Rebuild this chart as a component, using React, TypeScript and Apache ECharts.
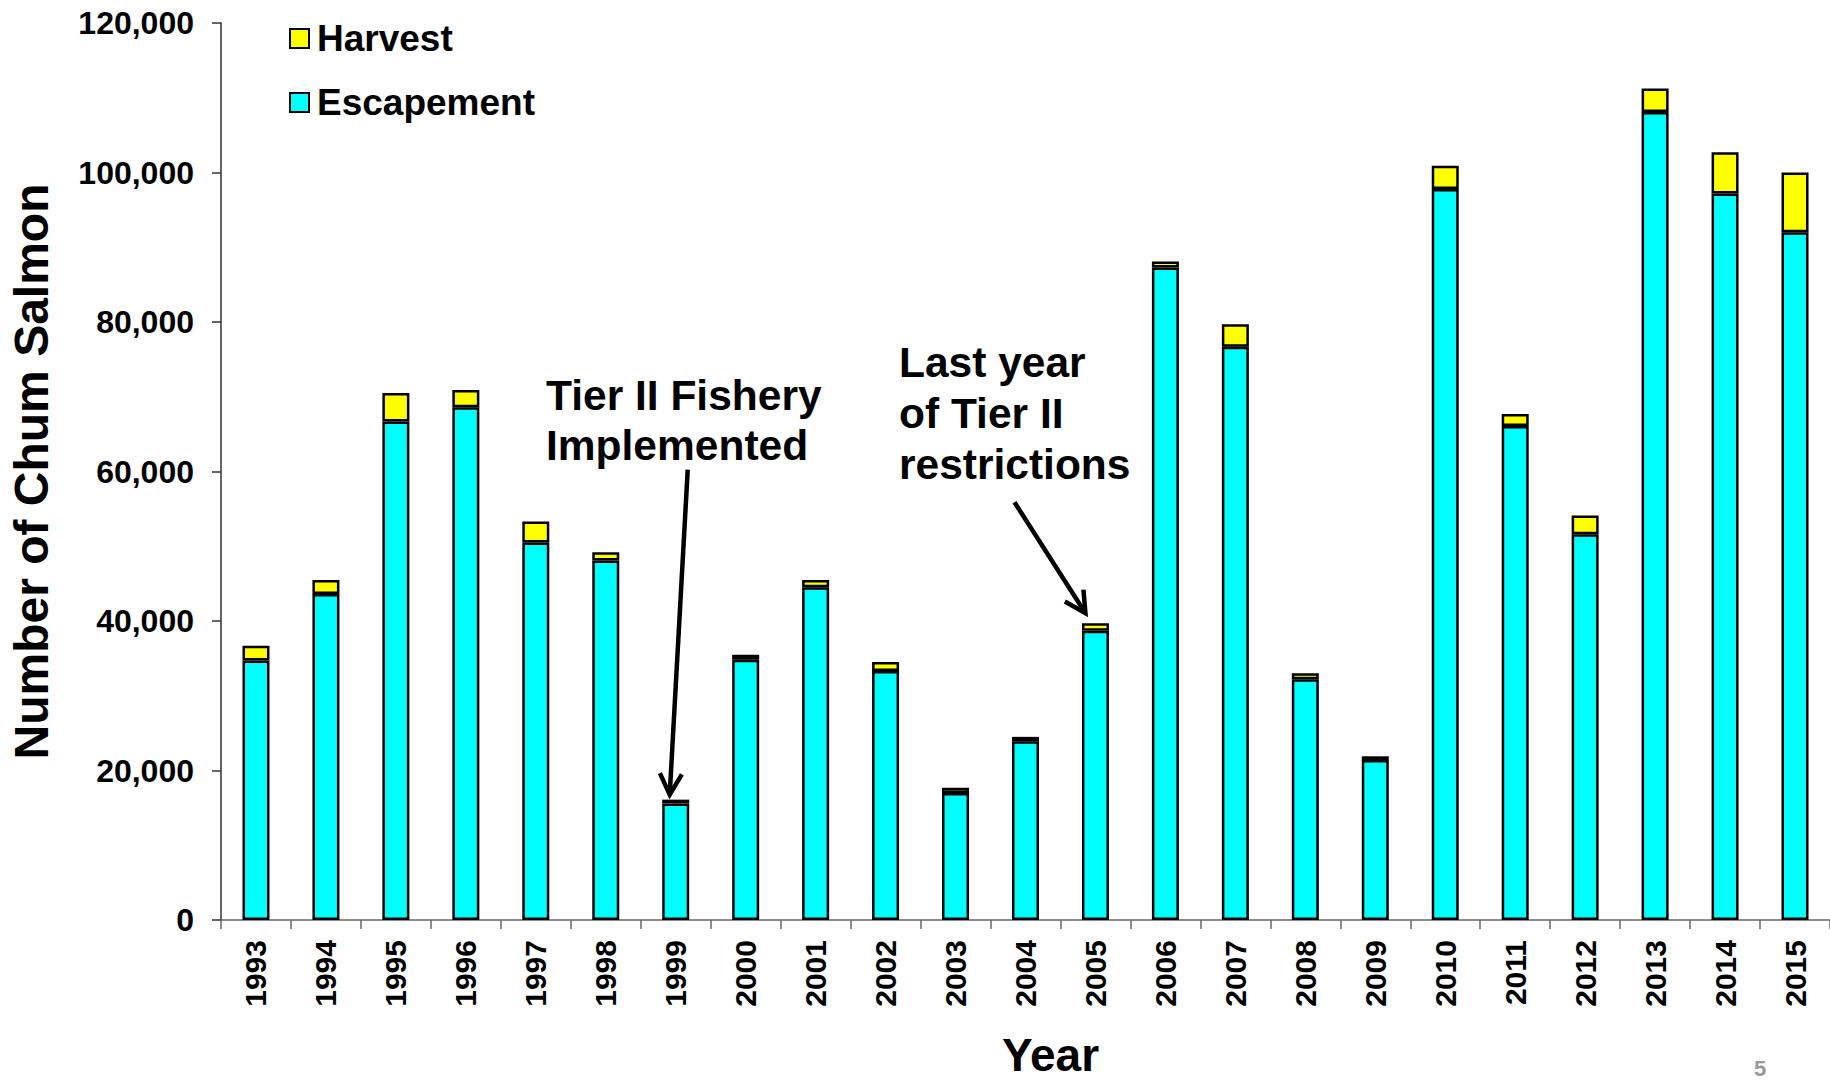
import React, { useEffect, useRef } from "react";
import * as echarts from "echarts";

const years = ["1993","1994","1995","1996","1997","1998","1999","2000","2001","2002","2003","2004","2005","2006","2007","2008","2009","2010","2011","2012","2013","2014","2015"];
const escapement = [34700, 43600, 66700, 68600, 50500, 48100, 15600, 34800, 44500, 33300, 17000, 23900, 38700, 87300, 76700, 32200, 21400, 97800, 66100, 51600, 108100, 97200, 92000];
const harvest = [2000, 1900, 3800, 2300, 2800, 1100, 500, 700, 1000, 1200, 700, 600, 1000, 800, 3000, 800, 500, 3100, 1600, 2500, 3150, 5500, 8000];
const yTicks = [0, 20000, 40000, 60000, 80000, 100000, 120000];
const note1Lines = ["Tier II Fishery", "Implemented"];
const note2Lines = ["Last year", "of Tier II", "restrictions"];
const note1Year = "1999";
const note2Year = "2005";

const FONT = "'Liberation Sans', Arial, Helvetica, sans-serif";

function arrowGraphics(tip: number[], tail: number[]) {
  const dx = tip[0] - tail[0];
  const dy = tip[1] - tail[1];
  const len = Math.sqrt(dx * dx + dy * dy);
  const ux = dx / len, uy = dy / len;
  const nx = -uy, ny = ux;
  const L = 21, W = 11;
  const w1 = [tip[0] - ux * L + nx * W, tip[1] - uy * L + ny * W];
  const w2 = [tip[0] - ux * L - nx * W, tip[1] - uy * L - ny * W];
  return [
    { type: "line", shape: { x1: tail[0], y1: tail[1], x2: tip[0] - ux * 2, y2: tip[1] - uy * 2 }, style: { stroke: "#000", lineWidth: 4.5 }, z: 100 },
    { type: "polyline", shape: { points: [w1, tip, w2] }, style: { stroke: "#000", lineWidth: 4.5, fill: null, lineJoin: "miter" }, z: 100 },
  ];
}

export default function App() {
  const ref = useRef<HTMLDivElement>(null);
  useEffect(() => {
    if (!ref.current) return;
    const chart = echarts.init(ref.current, null, { renderer: "svg" });
    const option: any = {
      animation: false,
      backgroundColor: "#fff",
      grid: { left: 221, right: 0, top: 23, bottom: 161, containLabel: false, outerBoundsMode: "none" },
      legend: {
        data: ["Harvest", "Escapement"],
        orient: "vertical",
        left: 284,
        top: 15,
        itemWidth: 19,
        itemHeight: 19,
        itemGap: 27,
        icon: "rect",
        textStyle: { fontFamily: FONT, fontWeight: "bold", fontSize: 37, color: "#000", padding: [0, 0, 0, 3] },
      },
      xAxis: {
        type: "category",
        data: years,
        name: "Year",
        nameLocation: "middle",
        nameGap: 112,
        nameTextStyle: { fontFamily: FONT, fontWeight: "bold", fontSize: 46, lineHeight: 46, color: "#000", padding: [0, 0, 0, 50] },
        axisLine: { lineStyle: { color: "#666", width: 1.5 } },
        axisTick: { show: true, length: 9, alignWithLabel: false, lineStyle: { color: "#666", width: 1.5 } },
        axisLabel: { rotate: 90, margin: 20, fontFamily: FONT, fontWeight: "bold", fontSize: 30, color: "#000", interval: 0 },
      },
      yAxis: {
        type: "value",
        min: 0,
        max: 120000,
        interval: 20000,
        name: "Number of Chum Salmon",
        nameLocation: "middle",
        nameRotate: 90,
        nameGap: 166,
        nameTextStyle: { fontFamily: FONT, fontWeight: "bold", fontSize: 48, color: "#000" },
        splitLine: { show: false },
        axisLine: { show: true, lineStyle: { color: "#333", width: 1.5 } },
        axisTick: { show: true, length: 9, lineStyle: { color: "#333", width: 1.5 } },
        axisLabel: {
          margin: 27,
          fontFamily: FONT,
          fontWeight: "bold",
          fontSize: 32,
          color: "#000",
          formatter: (v: number) => (yTicks.indexOf(v) >= 0 ? v.toLocaleString("en-US") : ""),
        },
      },
      series: [
        {
          name: "Escapement",
          type: "bar",
          stack: "total",
          data: escapement,
          barWidth: 27,
          itemStyle: { color: "#00FFFF", borderColor: "#000", borderWidth: 2.5 },
        },
        {
          name: "Harvest",
          type: "bar",
          stack: "total",
          data: harvest,
          barWidth: 27,
          itemStyle: { color: "#FFFF00", borderColor: "#000", borderWidth: 2.5 },
        },
      ],
    };
    chart.setOption(option);

    const i1 = years.indexOf(note1Year);
    const i2 = years.indexOf(note2Year);
    const top1 = chart.convertToPixel({ gridIndex: 0 }, [i1, escapement[i1] + harvest[i1]]) as number[];
    const top2 = chart.convertToPixel({ gridIndex: 0 }, [i2, escapement[i2] + harvest[i2]]) as number[];
    const tip1 = [top1[0] - 6, top1[1] - 5];
    const tail1 = [tip1[0] + 18, tip1[1] - 325];
    const tip2 = [top2[0] - 10, top2[1] - 10];
    const tail2 = [tip2[0] - 71, tip2[1] - 111];

    const textStyle = { fontFamily: FONT, fontWeight: "bold", fontSize: 42.5, fill: "#000" };
    const graphics: any[] = [
      ...arrowGraphics(tip1, tail1),
      ...arrowGraphics(tip2, tail2),
      ...note1Lines.map((t, k) => ({
        type: "text", left: 546, top: 374 + k * 50, z: 100,
        style: { ...textStyle, text: t },
      })),
      ...note2Lines.map((t, k) => ({
        type: "text", left: 899, top: 341 + k * 51, z: 100,
        style: { ...textStyle, text: t },
      })),
      { type: "text", left: 1754, top: 1057, z: 100, style: { text: "5", fontFamily: FONT, fontWeight: "bold", fontSize: 22, fill: "#999" } },
    ];
    chart.setOption({ graphic: graphics });

    return () => chart.dispose();
  }, []);
  return <div ref={ref} style={{ position: "fixed", left: 0, top: 0, width: 1830, height: 1081, background: "#fff" }} />;
}
